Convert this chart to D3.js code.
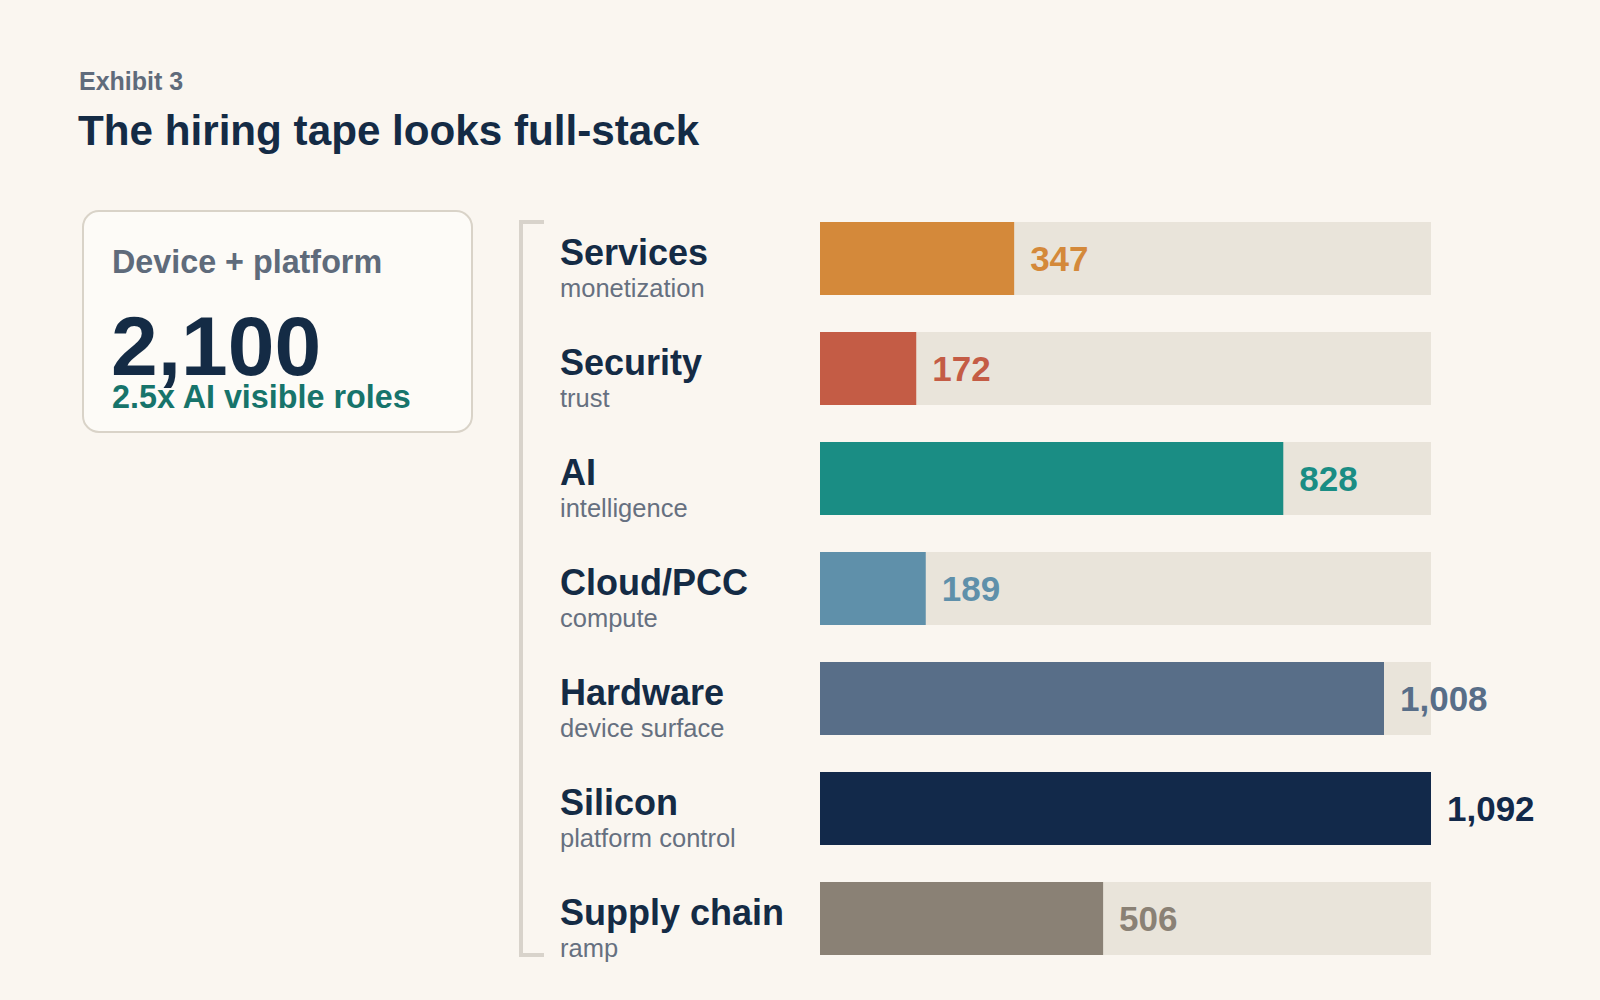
<!DOCTYPE html>
<html>
<head>
<meta charset="utf-8">
<script src="https://cdn.jsdelivr.net/npm/d3@7"></script>
<style>
  html, body { margin: 0; padding: 0; background: #faf6f0; }
  svg { display: block; font-family: "Liberation Sans", Arial, sans-serif; }
</style>
</head>
<body>
<svg id="chart" width="1600" height="1000"></svg>
<script>
// Exhibit 3 – hiring mix by area

const categories = ["Services", "Security", "AI", "Cloud/PCC", "Hardware", "Silicon", "Supply chain"];
const subLabels  = ["monetization", "trust", "intelligence", "compute", "device surface", "platform control", "ramp"];
const roles      = [347, 172, 828, 189, 1008, 1092, 506];
const barColors  = ["#d4893a", "#c45c45", "#1a8d84", "#5f90aa", "#586e88", "#12294a", "#8a8175"];

const totalRoles = 2100;
const aiMultiple = "2.5x";

const width = 1600, height = 1000;
const navy = "#142b45", grey = "#5f6b7b";

const svg = d3.select("#chart")
  .attr("viewBox", `0 0 ${width} ${height}`);

svg.append("rect")
  .attr("width", width).attr("height", height)
  .attr("fill", "#faf6f0");

// titles
svg.append("text")
  .attr("x", 79).attr("y", 90)
  .attr("font-size", 25).attr("font-weight", 700)
  .attr("fill", grey)
  .text("Exhibit 3");

svg.append("text")
  .attr("x", 78).attr("y", 145)
  .attr("font-size", 42.2).attr("font-weight", 700)
  .attr("fill", navy)
  .text("The hiring tape looks full-stack");

// KPI card
const card = svg.append("g");
card.append("rect")
  .attr("x", 83).attr("y", 211)
  .attr("width", 389).attr("height", 221)
  .attr("rx", 16)
  .attr("fill", "#fdfbf7")
  .attr("stroke", "#d9d3c8")
  .attr("stroke-width", 2);
card.append("text")
  .attr("x", 112).attr("y", 273)
  .attr("font-size", 32.3).attr("font-weight", 700)
  .attr("fill", grey)
  .text("Device + platform");
card.append("text")
  .attr("x", 111).attr("y", 375)
  .attr("font-size", 84).attr("font-weight", 700)
  .attr("fill", navy)
  .text(d3.format(",")(totalRoles));
card.append("text")
  .attr("x", 112).attr("y", 408)
  .attr("font-size", 32.3).attr("font-weight", 700)
  .attr("fill", "#17746b")
  .text(`${aiMultiple} AI visible roles`);

// scales
const y = d3.scaleBand()
  .domain(categories)
  .range([222, 955])
  .paddingInner(37 / 110)
  .paddingOuter(0);

const x = d3.scaleLinear()
  .domain([0, d3.max(roles)])
  .range([820, 1431]);

const data = categories.map((name, i) => ({
  name, sub: subLabels[i], value: roles[i], color: barColors[i]
}));

// bracket
const [y0, y1] = y.range();
svg.append("path")
  .attr("d", `M544,${y0} H521 V${y1} H544`)
  .attr("fill", "none")
  .attr("stroke", "#d8d3cb")
  .attr("stroke-width", 4);

const rows = svg.selectAll("g.row")
  .data(data)
  .join("g")
  .attr("class", "row")
  .attr("transform", d => `translate(0,${y(d.name)})`);

const bw = y.bandwidth();

rows.append("rect")
  .attr("x", x(0))
  .attr("width", x.range()[1] - x(0))
  .attr("height", bw)
  .attr("fill", "#e9e4da");

rows.append("rect")
  .attr("x", x(0))
  .attr("width", d => x(d.value) - x(0))
  .attr("height", bw)
  .attr("fill", d => d.color);

rows.append("text")
  .attr("x", 560)
  .attr("y", bw / 2 + 6)
  .attr("font-size", 36).attr("font-weight", 700)
  .attr("fill", navy)
  .text(d => d.name);

rows.append("text")
  .attr("x", 560)
  .attr("y", bw / 2 + 38)
  .attr("font-size", 25.5)
  .attr("fill", "#667080")
  .text(d => d.sub);

rows.append("text")
  .attr("x", d => x(d.value) + 16)
  .attr("y", bw / 2 + 12)
  .attr("font-size", 35).attr("font-weight", 700)
  .attr("fill", d => d.color)
  .text(d => d3.format(",")(d.value));
</script>
</body>
</html>
